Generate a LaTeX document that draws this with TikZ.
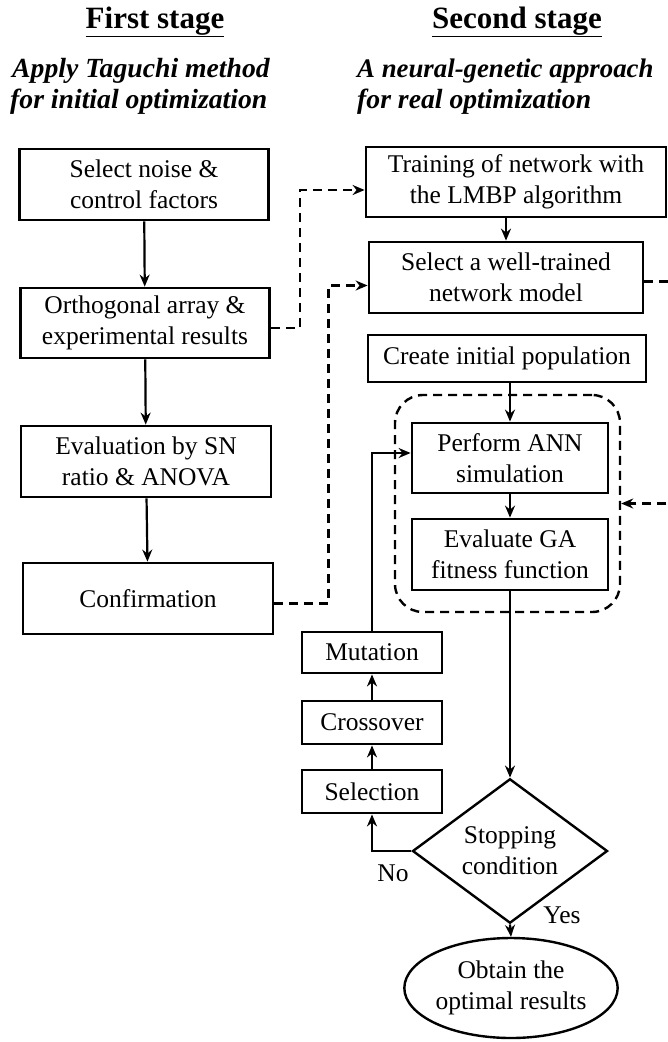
\documentclass[tikz,border=0pt]{standalone}
\usepackage{fontspec}
\setmainfont{Liberation Serif}
\usetikzlibrary{shapes.geometric,arrows.meta}
\begin{document}
\begin{tikzpicture}[x=1pt,y=-1pt,
  box/.style={draw, line width=2.8pt, align=center, inner sep=0pt,
    font=\fontsize{25.5}{31}\selectfont},
  arr/.style={-{Stealth[length=12pt,width=10pt]}, line width=2.2pt},
  dline/.style={dash pattern=on 9pt off 6pt, line width=2.4pt},
  darr/.style={dline, -{Stealth[length=12pt,width=10pt]}},
  title/.style={font=\fontsize{31}{36}\selectfont\bfseries},
  sub/.style={font=\fontsize{27.7}{32}\selectfont\bfseries\itshape, anchor=base west, inner sep=0pt},
  lbl/.style={font=\fontsize{25.5}{30}\selectfont, inner sep=0pt}
]
\useasboundingbox (0,0) rectangle (668,1042);
\clip (0,0) rectangle (668,1042);

% headings
\node[title] (t1) at (155,22) {\underline{First stage}};
\node[title] (t2) at (517,22) {\underline{Second stage}};
\node[sub] (s1a) at (12,77) {Apply Taguchi method};
\node[sub] (s1b) at (10,108) {for initial optimization};
\node[sub, font=\fontsize{26.8}{32}\selectfont\bfseries\itshape] (s2a) at (357,77) {A neural-genetic approach};
\node[sub] (s2b) at (357,108) {for real optimization};

% first stage
\node[box, minimum width=249pt, minimum height=71pt] (b1) at (144,184.5) {Select noise \&\\control factors};
\node[box, minimum width=249pt, minimum height=70pt] (b2) at (145,323) {Orthogonal array \&\\experimental results};
\node[box, minimum width=250pt, minimum height=71pt] (b3) at (146,461.5) {Evaluation by SN\\ratio \& ANOVA};
\node[box, minimum width=250pt, minimum height=71pt] (b4) at (148,598.5) {Confirmation};

\draw[arr] (b1) -- (b2);
\draw[arr] (b2) -- (b3);
\draw[arr] (b3) -- (b4);

% second stage
\node[box, minimum width=300pt, minimum height=70pt] (trn) at (516,182) {Training of network with\\the LMBP algorithm};
\node[box, minimum width=274pt, minimum height=71pt] (sel) at (506,277.5) {Select a well-trained\\network model};
\node[box, minimum width=278pt, minimum height=47pt] (cre) at (507,358.5) {Create initial population};
\node[draw, dline, rounded corners=28pt, minimum width=225pt, minimum height=217pt, inner sep=0pt] (grp) at (507.5,503.5) {};
\node[box, minimum width=196pt, minimum height=70pt] (per) at (510,458) {Perform ANN\\simulation};
\node[box, minimum width=196pt, minimum height=71pt] (eva) at (510,554.5) {Evaluate GA\\fitness function};
\node[box, minimum width=140pt, minimum height=41pt] (mut) at (372,652.5) {Mutation};
\node[box, minimum width=140pt, minimum height=43pt] (cro) at (372,722.5) {Crossover};
\node[box, minimum width=140pt, minimum height=43pt] (slc) at (372,791.5) {Selection};
\node[box, diamond, minimum width=195pt, minimum height=108pt, line width=2.4pt] (dia) at (510,851) {Stopping\\condition};
\node[box, ellipse, minimum width=197pt, minimum height=100pt, line width=2.4pt] (ell) at (511,988) {Obtain the\\optimal results};

\draw[arr] (sel.north |- trn.south) -- (sel.north);
\draw[arr] (per.north |- cre.south) -- (per.north);
\draw[arr] (per) -- (eva);
\draw[arr] (eva) -- (dia);
\draw[arr] (slc) -- (cro);
\draw[arr] (cro) -- (mut);
\draw[arr] (mut.north) -- ([yshift=5pt]mut.north |- per.west) -- ([yshift=5pt]per.west);
\draw[arr] (dia.west) -| (slc.south);
\draw[arr] (dia.south) -- (ell.north);
\node[lbl] (no) at (393,873) {No};
\node[lbl] (yes) at (562,915) {Yes};

% dashed links
\draw[darr] ([yshift=-5pt]b2.east) -- ++(29,0) |- ([yshift=-8pt]trn.west);
\draw[darr] ([yshift=-5pt]b4.east) -- ++(54,0) |- ([yshift=-8pt]sel.west);
\draw[darr] ([yshift=-4pt]sel.east) -- ++(50,0) |- (grp.east);
\end{tikzpicture}
\end{document}
